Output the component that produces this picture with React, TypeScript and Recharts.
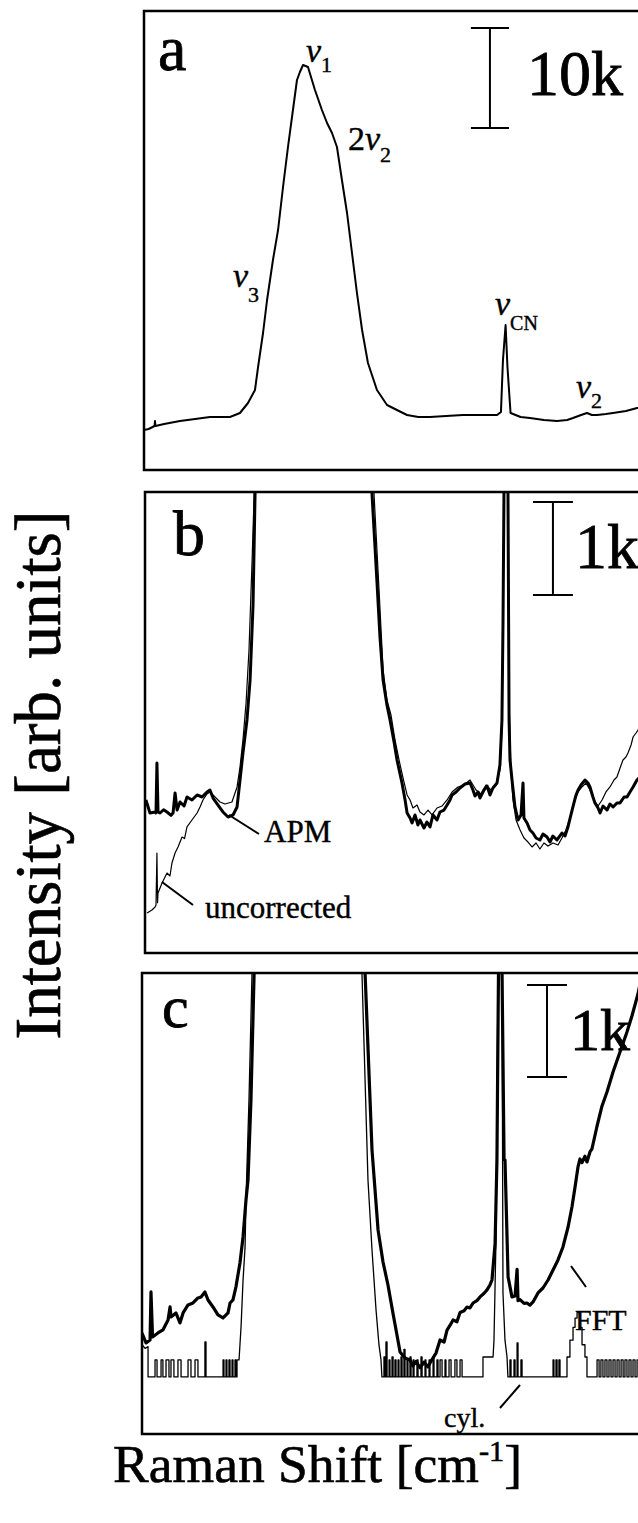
import React from 'react';
import { LineChart, Line, XAxis, YAxis, ReferenceLine, ReferenceArea } from 'recharts';

type Pt = [number, number];
type Pulse = [number, number, number];

// Raman shift axis (cm-1), drawn high -> low from left to right
const SHIFT_LOW = 1075;
const SHIFT_HIGH = 4430;

// ---------- (a) raw spectrum, intensity in counts ----------
const rawWingHigh: Pt[] = [
  [4430, 4000], [4400, 4100], [4362, 4400], [4359, 4900], [4356, 4400], [4300, 4600],
  [4198, 4900], [4100, 5100], [4004, 5300], [3940, 5300], [3875, 5300], [3811, 5700],
  [3759, 6700], [3714, 8000],
];
// intense O-H stretching band (v3 / v1 / 2v2)
const mainBand: Pt[] = [
  [3694, 10300], [3662, 13700], [3636, 17000], [3598, 21000], [3565, 24000], [3533, 28300],
  [3501, 32300], [3469, 36000], [3443, 39000], [3424, 39800], [3404, 40500], [3372, 40300],
  [3327, 38000], [3282, 36000], [3249, 34700], [3217, 33700], [3185, 32300], [3153, 29000],
  [3120, 25700], [3088, 21700], [3056, 17700], [3023, 14000], [2985, 10700],
];
const rawWingLow: Pt[] = [
  [2927, 8000], [2862, 6500], [2798, 6000], [2733, 5500], [2660, 5300], [2585, 5300],
  [2480, 5400], [2372, 5500], [2250, 5500], [2152, 5500], [2127, 5800], [2114, 11000],
  [2097, 14500], [2085, 10300], [2065, 5700], [2000, 5300], [1940, 5200], [1850, 5000],
  [1765, 4900], [1700, 5000], [1662, 5200], [1610, 5500], [1572, 5700], [1540, 5500],
  [1507, 5500], [1450, 5600], [1404, 5700], [1320, 5900], [1249, 6200], [1075, 6600],
];

// ---------- (b) APM-corrected vs uncorrected ----------
const apmHigh: Pt[] = [
  [4424, 5405], [4398, 5265], [4365, 5276], [4359, 5265], [4353, 5803], [4346, 5276],
  [4333, 5265], [4310, 5300], [4288, 5276], [4262, 5240], [4249, 5265], [4236, 5480],
  [4223, 5297], [4204, 5383], [4178, 5340], [4159, 5437], [4127, 5405], [4094, 5459],
  [4062, 5437], [4030, 5491], [4011, 5512], [3991, 5426], [3959, 5351], [3927, 5276],
  [3894, 5222], [3862, 5244], [3836, 5330], [3817, 5620], [3798, 5910], [3772, 6265],
  [3752, 6695], [3733, 7500], [3720, 8684],
];
const apmLow: Pt[] = [
  [2965, 8684], [2933, 7738], [2914, 7157], [2894, 6695], [2869, 6426], [2849, 6265],
  [2823, 6028], [2804, 5835], [2772, 5588], [2752, 5405], [2739, 5265], [2720, 5211],
  [2707, 5158], [2688, 5244], [2669, 5136], [2656, 5190], [2630, 5104], [2611, 5168],
  [2591, 5115], [2572, 5244], [2546, 5190], [2527, 5276], [2501, 5297], [2481, 5351],
  [2462, 5405], [2449, 5459], [2423, 5491], [2398, 5534], [2365, 5577], [2333, 5588],
  [2314, 5512], [2301, 5448], [2281, 5491], [2269, 5426], [2243, 5512], [2223, 5555],
  [2204, 5459], [2185, 5534], [2159, 5588], [2140, 5781], [2127, 6265], [2120, 7340],
  [2114, 8684], [2097, 14500], [2088, 8684], [2081, 6265], [2075, 5835], [2062, 5620],
  [2043, 5330], [2023, 5190], [2004, 5244], [1991, 5588], [1985, 5211], [1965, 5158],
  [1946, 5082], [1927, 5050], [1907, 4996], [1882, 4975], [1862, 5039], [1836, 5007],
  [1817, 4953], [1798, 5018], [1772, 4975], [1740, 5050], [1720, 5018], [1701, 5115],
  [1682, 5244], [1669, 5330], [1649, 5459], [1636, 5512], [1617, 5566], [1591, 5620],
  [1572, 5588], [1559, 5545], [1540, 5437], [1527, 5373], [1507, 5319], [1494, 5265],
  [1475, 5340], [1449, 5297], [1430, 5362], [1410, 5330], [1385, 5373], [1365, 5373],
  [1339, 5437], [1320, 5437], [1301, 5491], [1281, 5545], [1256, 5620], [1204, 5706],
  [1075, 5850],
];
const rawHigh: Pt[] = [
  [4417, 4190], [4385, 4222], [4365, 4255], [4359, 4276], [4353, 4835], [4349, 4300],
  [4346, 4405], [4320, 4513], [4288, 4620], [4269, 4588], [4256, 4728], [4236, 4835],
  [4217, 4900], [4191, 5007], [4175, 4990], [4159, 5115], [4127, 5190], [4094, 5265],
  [4075, 5330], [4056, 5405], [4030, 5470], [4011, 5491], [3978, 5437], [3946, 5383],
  [3914, 5362], [3869, 5383], [3836, 5545], [3817, 5760], [3798, 6050], [3778, 6447],
  [3759, 7017], [3739, 7985], [3726, 8684],
];
const rawLow: Pt[] = [
  [2952, 8684], [2920, 7662], [2894, 6802], [2869, 6480], [2843, 6319], [2817, 6050],
  [2791, 5835], [2765, 5641], [2739, 5459], [2720, 5405], [2701, 5319], [2675, 5351],
  [2656, 5276], [2630, 5244], [2604, 5297], [2578, 5244], [2546, 5319], [2514, 5340],
  [2481, 5405], [2449, 5491], [2411, 5545], [2372, 5566], [2333, 5620], [2294, 5512],
  [2262, 5470], [2230, 5566], [2198, 5512], [2165, 5566], [2140, 5727], [2127, 6157],
  [2120, 7555], [2114, 8684], [2097, 14500], [2088, 8684], [2081, 6480], [2069, 5727],
  [2056, 5405], [2036, 5190], [2010, 5082], [1985, 4996], [1959, 4953], [1933, 4900],
  [1907, 4943], [1882, 4878], [1856, 4943], [1830, 4910], [1798, 4943], [1765, 4921],
  [1740, 4996], [1714, 5082], [1688, 5211], [1662, 5373], [1636, 5491], [1611, 5545],
  [1585, 5588], [1559, 5512], [1533, 5405], [1507, 5340], [1481, 5405], [1456, 5491],
  [1430, 5545], [1404, 5620], [1385, 5652], [1365, 5749], [1346, 5835], [1327, 5867],
  [1314, 5910], [1294, 5996], [1281, 6082], [1262, 6125], [1249, 6157], [1172, 6480],
  [1075, 6900],
];

// ---------- (c) background removed: FFT filter vs. cylinder ----------
const bandOffsetC = 5000;
const fftHigh: Pt[] = [
  [4430, 478], [4404, 370], [4378, 402], [4372, 924], [4362, 435], [4327, 478],
  [4295, 511], [4262, 620], [4249, 761], [4243, 652], [4211, 696], [4185, 587],
  [4165, 696], [4133, 783], [4101, 804], [4069, 859], [4049, 870], [4024, 924],
  [4004, 837], [3972, 761], [3940, 674], [3907, 641], [3875, 696], [3862, 804],
  [3843, 837], [3824, 978], [3798, 1239], [3778, 1522], [3759, 1924], [3746, 2141],
  [3727, 3011], [3707, 4370],
];
const fftLow: Pt[] = [
  [2991, 4400], [2946, 2467], [2907, 1598], [2875, 1250], [2843, 1000], [2811, 696],
  [2785, 457], [2765, 272], [2733, 207], [2701, 185], [2682, 120], [2662, 170],
  [2636, 100], [2611, 160], [2585, 110], [2559, 190], [2533, 260], [2507, 402],
  [2481, 380], [2462, 510], [2443, 560], [2423, 620], [2398, 600], [2378, 700],
  [2352, 720], [2333, 760], [2314, 750], [2294, 804], [2269, 830], [2249, 870],
  [2223, 910], [2204, 946], [2185, 1000], [2172, 1054], [2152, 1450], [2140, 2350],
  [2130, 4400], [2120, 9500], [2107, 4400], [2094, 2360], [2088, 2360], [2068, 1087],
  [2043, 870], [2023, 880], [2010, 1170], [2004, 830], [1991, 840], [1965, 800],
  [1946, 804], [1927, 780], [1907, 815], [1875, 913], [1843, 967], [1810, 1054],
  [1778, 1163], [1746, 1272], [1714, 1413], [1681, 1630], [1656, 1848], [1636, 2065],
  [1617, 2283], [1604, 2370], [1591, 2330], [1572, 2400], [1559, 2337], [1539, 2450],
  [1527, 2478], [1494, 2728], [1462, 2946], [1430, 3098], [1391, 3315], [1346, 3533],
  [1301, 3750], [1269, 3924], [1230, 4163], [1153, 4800],
];
const cylLeadIn: Pt[] = [[4430, 350], [4410, 310], [4391, 330], [4391, 0]];
const cylPulsesHigh: Pulse[] = [
  [4346, 4333, 185], [4307, 4295, 185], [4275, 4256, 185], [4243, 4224, 185],
  [4198, 4178, 185], [4133, 4114, 185], [4088, 4069, 185], [4024, 4017, 380],
  [3907, 3901, 185], [3888, 3882, 185], [3869, 3862, 185], [3849, 3843, 185],
  [3830, 3824, 185],
];
const cylRise: Pt[] = [
  [3817, 0], [3817, 185], [3804, 185], [3791, 544], [3778, 1054], [3765, 1413],
  [3759, 1924], [3740, 3000], [3720, 4400],
];
const cylFall: Pt[] = [
  [3011, 4400], [2972, 2141], [2946, 1380], [2920, 728], [2901, 348], [2888, 185], [2882, 0],
];
const cylPulsesMid: Pulse[] = [
  [2869, 2862, 217], [2856, 2849, 380], [2836, 2830, 185], [2817, 2810, 217],
  [2798, 2791, 185], [2778, 2772, 185], [2759, 2752, 217], [2740, 2733, 300],
  [2720, 2714, 185], [2701, 2694, 217], [2681, 2675, 185], [2656, 2649, 185],
  [2630, 2623, 217], [2604, 2598, 185], [2578, 2572, 185], [2552, 2546, 217],
  [2527, 2520, 185], [2507, 2494, 185], [2475, 2469, 185], [2449, 2436, 185],
  [2411, 2398, 185], [2378, 2365, 185],
];
const cylSpike: Pt[] = [
  [2230, 0], [2230, 217], [2165, 217], [2159, 400], [2146, 1500], [2133, 4400],
  [2120, 9500], [2107, 4400], [2101, 913], [2088, 400], [2075, 217], [2069, 0],
];
const cylPulsesLow: Pulse[] = [
  [2056, 2049, 185], [2030, 2023, 185], [2010, 2004, 370], [1985, 1978, 185],
  [1778, 1772, 185], [1759, 1752, 185], [1740, 1733, 185],
];
const cylBump: Pt[] = [
  [1688, 0], [1688, 217], [1669, 217], [1669, 400], [1649, 400], [1649, 540],
  [1636, 540], [1636, 640], [1623, 640], [1623, 700], [1604, 700], [1604, 540],
  [1591, 540], [1591, 350], [1572, 350], [1572, 217], [1559, 217], [1559, 0],
];
const cylPulsesTail: Pulse[] = [
  [1494, 1481, 185], [1469, 1456, 185], [1443, 1430, 185], [1417, 1404, 185],
  [1391, 1378, 185], [1365, 1352, 185], [1339, 1326, 185], [1314, 1301, 185],
  [1288, 1275, 185], [1262, 1249, 185], [1236, 1223, 185],
];
const cylEnd: Pt[] = [[1075, 0]];

// intensity scale bars: [shift, lower end, length]
const barA: number[] = [2198, 34200, 10000];
const barB: number[] = [1798, 7609, 1000];
const barC: number[] = [1817, 3260, 1000];

// vertical windows of the three panels (counts)
const domainA: [number, number] = [0, 45900];
const domainB: [number, number] = [3760, 8716];
const domainC: [number, number] = [-620, 4391];

const FONT = '"Liberation Serif", "Times New Roman", Times, serif';

const pulseTrain = (pulses: Pulse[]): Pt[] =>
  pulses.flatMap(([a, b, h]) => [[a, 0], [a, h], [b, h], [b, 0]] as Pt[]);
const toRows = (pts: Pt[]) => pts.map(([x, y]) => ({ x, y }));

const traceA = toRows([...rawWingHigh, ...mainBand, ...rawWingLow]);
const traceApm = toRows([...apmHigh, ...mainBand, ...apmLow]);
const traceRaw = toRows([...rawHigh, ...mainBand, ...rawLow]);
const bandC: Pt[] = mainBand.map(([x, y]) => [x, y - bandOffsetC]);
const traceFft = toRows([...fftHigh, ...bandC, ...fftLow]);
const traceCyl = toRows([
  ...cylLeadIn, ...pulseTrain(cylPulsesHigh), ...cylRise, ...bandC, ...cylFall,
  ...pulseTrain(cylPulsesMid), ...cylSpike, ...pulseTrain(cylPulsesLow), ...cylBump,
  ...pulseTrain(cylPulsesTail), ...cylEnd,
]);

const PLOT_W = 520;
const PAD = 2;

function scaleBar(bar: number[], halfWidth: number, key: string) {
  const [x, y0, len] = bar;
  const y1 = y0 + len;
  const common = { stroke: '#000', strokeWidth: 2, ifOverflow: 'visible' as const };
  return [
    <ReferenceLine key={key + 'v'} segment={[{ x, y: y0 }, { x, y: y1 }]} {...common} />,
    <ReferenceLine key={key + 'b'} segment={[{ x: x + halfWidth, y: y0 }, { x: x - halfWidth, y: y0 }]} {...common} />,
    <ReferenceLine key={key + 't'} segment={[{ x: x + halfWidth, y: y1 }, { x: x - halfWidth, y: y1 }]} {...common} />,
  ];
}

function panel(left: number, top: number, height: number, yDomain: [number, number], body: React.ReactNode[]) {
  return (
    <div style={{ position: 'absolute', left: left - PAD, top: top - PAD }}>
      <LineChart
        width={PLOT_W + PAD * 2}
        height={height + PAD * 2}
        margin={{ top: PAD, right: PAD, bottom: PAD, left: PAD }}
      >
        <XAxis dataKey="x" type="number" domain={[SHIFT_LOW, SHIFT_HIGH]} reversed hide allowDataOverflow height={0} />
        <YAxis type="number" domain={yDomain} hide allowDataOverflow width={0} />
        <ReferenceArea
          x1={SHIFT_LOW} x2={SHIFT_HIGH} y1={yDomain[0]} y2={yDomain[1]}
          fill="none" fillOpacity={0} stroke="#000" strokeWidth={2.5} ifOverflow="visible"
        />
        {body}
      </LineChart>
    </div>
  );
}

function trace(data: { x: number; y: number }[], width: number, key: string) {
  return (
    <Line
      key={key}
      data={data}
      dataKey="y"
      type="linear"
      dot={false}
      activeDot={false}
      stroke="#000"
      strokeWidth={width}
      strokeLinejoin="round"
      isAnimationActive={false}
    />
  );
}

function Nu({ x, y, sub, pre, size = 34, subSize = 22, dy = 11 }: { x: number; y: number; sub: string; pre?: string; size?: number; subSize?: number; dy?: number }) {
  return (
    <text x={x} y={y} fontSize={size} fontFamily={FONT} stroke="#000" strokeWidth={0.4}>
      {pre}<tspan fontStyle="italic">ν</tspan><tspan fontSize={subSize} dy={dy}>{sub}</tspan>
    </text>
  );
}

export default function App() {
  return (
    <div style={{ position: 'absolute', left: 0, top: 0, width: 638, height: 1523, overflow: 'hidden', background: '#fff' }}>
      {panel(144, 11, 459, domainA, [
        ...scaleBar(barA, 123, 'sa'),
        trace(traceA, 2, 'a'),
      ])}
      {panel(145, 492, 461, domainB, [
        ...scaleBar(barB, 129, 'sb'),
        trace(traceRaw, 1.2, 'raw'),
        trace(traceApm, 3, 'apm'),
      ])}
      {panel(142, 973, 461, domainC, [
        ...scaleBar(barC, 129, 'sc'),
        trace(traceCyl, 1.3, 'cyl'),
        trace(traceFft, 3.2, 'fft'),
      ])}

      <svg width={638} height={1523} style={{ position: 'absolute', left: 0, top: 0, pointerEvents: 'none' }}>
        <g fontFamily={FONT} fill="#000">
          {/* panel a */}
          <g stroke="#000" strokeWidth={0.8}>
            <text x={158} y={70} fontSize={64}>a</text>
            <text x={527} y={95} fontSize={64}>10k</text>
            <text x={173} y={555} fontSize={64}>b</text>
            <text x={575} y={568} fontSize={64}>1k</text>
            <text x={162} y={1027} fontSize={60}>c</text>
            <text x={570} y={1050} fontSize={60}>1k</text>
          </g>
          <Nu x={306} y={62} sub="1" dy={10} />
          <Nu x={348} y={150} pre="2" sub="2" dy={12} />
          <Nu x={233} y={287} sub="3" dy={15} />
          <Nu x={495} y={315} sub="CN" subSize={20} dy={15} />
          <Nu x={576} y={398} sub="2" dy={10} />

          <g stroke="#000" strokeWidth={0.4}>
            <text x={264} y={842} fontSize={31}>APM</text>
            <text x={205} y={918} fontSize={31}>uncorrected</text>
            <text x={575} y={1330} fontSize={30}>FFT</text>
            <text x={444} y={1427} fontSize={28}>cyl.</text>
          </g>

          {/* axis titles */}
          <g stroke="#000" strokeWidth={0.6}>
            <text transform="translate(60,775) rotate(-90)" textAnchor="middle" fontSize={65}>
              Intensity [arb. units]
            </text>
            <text x={113} y={1482} fontSize={53} textLength={409} lengthAdjust="spacingAndGlyphs">
              Raman Shift [cm<tspan fontSize={30} dy={-21}>-1</tspan><tspan dy={21}>]</tspan>
            </text>
          </g>
        </g>
        <g stroke="#000" strokeWidth={2}>
          <line x1={229} y1={815} x2={259} y2={834} />
          <line x1={162} y1={882} x2={193} y2={905} />
          <line x1={571} y1={1266} x2={586} y2={1287} />
          <line x1={500} y1={1408} x2={520} y2={1385} />
        </g>
      </svg>
    </div>
  );
}
